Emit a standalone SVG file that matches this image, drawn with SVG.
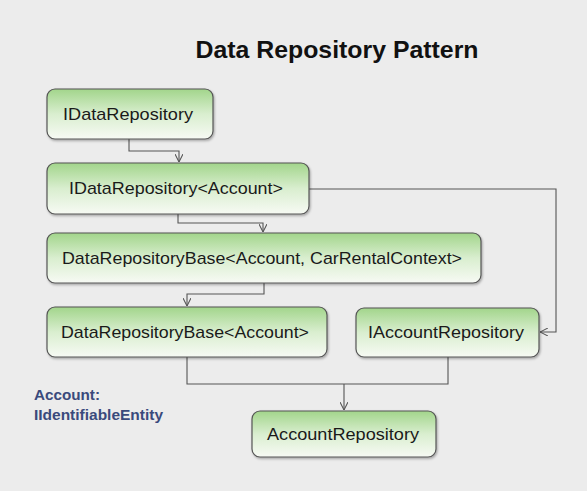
<svg xmlns="http://www.w3.org/2000/svg" width="587" height="491" viewBox="0 0 587 491">
<defs>
<linearGradient id="g" x1="0" y1="0" x2="0" y2="1">
<stop offset="0" stop-color="#a2d58b"/>
<stop offset="0.5" stop-color="#d9eecf"/>
<stop offset="1" stop-color="#f7faf4"/>
</linearGradient>
<marker id="a" viewBox="0 0 10 10" refX="10" refY="5" markerWidth="8" markerHeight="8" orient="auto" markerUnits="userSpaceOnUse">
<path d="M0,0 L10,5 L0,10" fill="none" stroke="#555" stroke-width="1.3"/>
</marker>
<filter id="s" x="-10%" y="-10%" width="120%" height="130%">
<feDropShadow dx="1" dy="1.5" stdDeviation="1.2" flood-color="#000" flood-opacity="0.3"/>
</filter>
</defs>
<style>
.n rect{fill:url(#g);stroke:#555;stroke-width:1.2;filter:url(#s)}
.n text{font-family:"Liberation Sans",Arial,sans-serif;font-size:17px;fill:#1a1a1a;text-anchor:middle;dominant-baseline:central}
.c path{fill:none;stroke:#555;stroke-width:1.1}
</style>
<rect width="587" height="491" fill="#ececec"/>
<text x="337" y="58" font-family="'Liberation Sans',Arial,sans-serif" font-weight="bold" font-size="24" fill="#111" text-anchor="middle" textLength="283" lengthAdjust="spacingAndGlyphs">Data Repository Pattern</text>
<g class="c">
<path d="M129,139 V151 H179 V162" marker-end="url(#a)"/>
<path d="M178,214 V223 H263 V232" marker-end="url(#a)"/>
<path d="M264,283 V294 H187 V306" marker-end="url(#a)"/>
<path d="M309,189 H556 V332 H540" marker-end="url(#a)"/>
<path d="M187,357 V384 H448 V357"/>
<path d="M344,384 V410" marker-end="url(#a)"/>
</g>
<g id="n1" class="n"><rect x="47" y="89" width="166" height="50" rx="8"/><text x="128" y="114" textLength="130" lengthAdjust="spacingAndGlyphs">IDataRepository</text></g>
<g id="n2" class="n"><rect x="47" y="163" width="262" height="51" rx="8"/><text x="176" y="188.5" textLength="214" lengthAdjust="spacingAndGlyphs">IDataRepository&lt;Account&gt;</text></g>
<g id="n3" class="n"><rect x="47" y="233" width="434" height="50" rx="8"/><text x="262" y="258" textLength="400" lengthAdjust="spacingAndGlyphs">DataRepositoryBase&lt;Account, CarRentalContext&gt;</text></g>
<g id="n4" class="n"><rect x="47" y="307" width="280" height="50" rx="8"/><text x="185" y="332" textLength="248" lengthAdjust="spacingAndGlyphs">DataRepositoryBase&lt;Account&gt;</text></g>
<g id="n5" class="n"><rect x="356" y="308" width="183" height="49" rx="8"/><text x="446" y="332.5" textLength="156" lengthAdjust="spacingAndGlyphs">IAccountRepository</text></g>
<g id="n6" class="n"><rect x="252" y="411" width="184" height="46" rx="8"/><text x="343" y="434" textLength="152" lengthAdjust="spacingAndGlyphs">AccountRepository</text></g>
<g id="note" font-family="'Liberation Sans',Arial,sans-serif" font-size="15" font-weight="bold" fill="#3a4a7c">
<text x="34" y="400" textLength="66" lengthAdjust="spacingAndGlyphs">Account:</text>
<text x="34" y="420" textLength="129" lengthAdjust="spacingAndGlyphs">IIdentifiableEntity</text>
</g>
</svg>
